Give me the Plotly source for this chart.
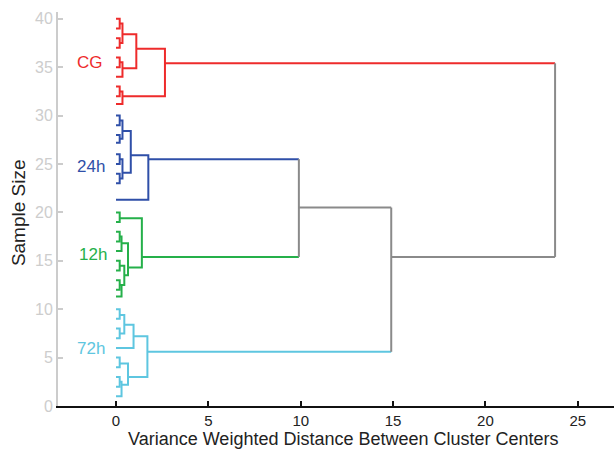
import plotly.graph_objects as go

# ---- data ----
cluster_names = ["CG", "24h", "12h", "72h"]
cluster_colors = ["#ee2b2b", "#2f4fa8", "#25b04a", "#5ec6e0"]
link_gray = "#8a8a8a"

# each link: (y_child_a, x_child_a, y_child_b, x_child_b, x_merge)
links_cg = [
    (40, 0, 39, 0, 0.2), (38, 0, 37, 0, 0.2), (39.5, 0.2, 37.5, 0.2, 0.35),
    (36, 0, 35, 0, 0.2), (35.5, 0.2, 34, 0, 0.35), (38.4, 0.35, 34.9, 0.35, 1.1),
    (33, 0, 32, 0, 0.2), (32.5, 0.2, 31.2, 0, 0.35), (36.9, 1.1, 32, 0.35, 2.65),
]
links_24h = [
    (30, 0, 29, 0, 0.2), (28, 0, 27.2, 0, 0.2), (29.5, 0.2, 27.6, 0.2, 0.35),
    (26, 0, 25, 0, 0.2), (24, 0, 23, 0, 0.2), (25.5, 0.2, 23.5, 0.2, 0.35),
    (28.4, 0.35, 24.1, 0.35, 0.8), (25.9, 0.8, 21.3, 0, 1.75),
]
links_12h = [
    (20, 0, 19, 0, 0.2), (18, 0, 17, 0, 0.2), (17.5, 0.2, 16, 0, 0.3),
    (15, 0, 14, 0, 0.2), (13, 0, 12, 0, 0.2), (12.5, 0.2, 11.3, 0, 0.3),
    (14.5, 0.2, 12.5, 0.3, 0.45), (16.8, 0.3, 13.5, 0.45, 0.65),
    (19.4, 0.2, 14.3, 0.65, 1.4),
]
links_72h = [
    (10, 0, 9, 0, 0.2), (8, 0, 7, 0, 0.2), (9.4, 0.2, 7.5, 0.2, 0.45),
    (8.4, 0.45, 6, 0, 0.95), (5, 0, 4, 0, 0.2), (3, 0, 2, 0, 0.2),
    (2.5, 0.2, 1, 0, 0.3), (4.4, 0.2, 2.2, 0.3, 0.65),
    (7.2, 0.95, 3.0, 0.65, 1.7),
]
# top-level links: (y_a, x_a, group_a, y_b, x_b, group_b, x_merge)
top_links = [
    (25.5, 1.75, "24h", 15.4, 1.4, "12h", 9.9),
    (20.5, 9.9, "gray", 5.6, 1.7, "72h", 14.9),
    (35.4, 2.65, "CG", 15.4, 14.9, "gray", 23.77),
]
label_x = [-1.41, -1.33, -1.27, -1.33]
label_y = [35.5, 24.75, 15.7, 5.9]

x_ticks = [0, 5, 10, 15, 20, 25]
y_ticks = [0, 5, 10, 15, 20, 25, 30, 35, 40]

# ---- build ----
color_of = dict(zip(cluster_names, cluster_colors))
color_of["gray"] = link_gray
segs = {c: ([], []) for c in color_of}

def add(group, xs, ys):
    segs[group][0].extend(xs + [None])
    segs[group][1].extend(ys + [None])

for name, links in zip(cluster_names, [links_cg, links_24h, links_12h, links_72h]):
    for ya, xa, yb, xb, xm in links:
        add(name, [xa, xm, xm, xb], [ya, ya, yb, yb])

for ya, xa, ga, yb, xb, gb, xm in top_links:
    add(ga, [xa, xm], [ya, ya])
    add(gb, [xb, xm], [yb, yb])
    add("gray", [xm, xm], [ya, yb])

fig = go.Figure()
for g, (xs, ys) in segs.items():
    fig.add_trace(go.Scatter(x=xs, y=ys, mode="lines",
                             line=dict(color=color_of[g], width=2),
                             hoverinfo="skip", showlegend=False))

for n, c, lx, ly in zip(cluster_names, cluster_colors, label_x, label_y):
    fig.add_annotation(x=lx, y=ly, text=n, showarrow=False,
                       font=dict(size=17, color=c), xanchor="center", yanchor="middle")

fig.add_annotation(xref="paper", yref="paper", x=0.514, y=-0.083,
                   text="Variance Weighted Distance Between Cluster Centers",
                   showarrow=False, font=dict(size=18, color="#222222"),
                   xanchor="center", yanchor="middle")
fig.add_annotation(xref="paper", yref="paper", x=-0.072, y=0.492,
                   text="Sample Size", textangle=-90,
                   showarrow=False, font=dict(size=19, color="#222222"),
                   xanchor="center", yanchor="middle")

fig.update_layout(
    width=614, height=449,
    margin=dict(l=58, r=0, t=12, b=43),
    paper_bgcolor="white", plot_bgcolor="white",
    font=dict(family="Liberation Sans, Arial, sans-serif"),
    xaxis=dict(range=[-3.14, 26.96], tickvals=x_ticks, ticks="inside", ticklen=5,
               tickwidth=2, tickcolor="#111111", showline=True, linecolor="#111111",
               linewidth=2, showgrid=False, zeroline=False,
               tickfont=dict(size=15, color="#222222")),
    yaxis=dict(range=[0, 40.7], tickvals=y_ticks, ticks="inside", ticklen=5,
               tickwidth=1.5, tickcolor="#cccccc", showline=True, linecolor="#cccccc",
               linewidth=2, showgrid=False, zeroline=False,
               tickfont=dict(size=16, color="#cdcdcd")),
)

fig.write_html("out.html", config={"displayModeBar": False},
               post_script="document.body.style.margin='0';document.body.style.padding='0';")
